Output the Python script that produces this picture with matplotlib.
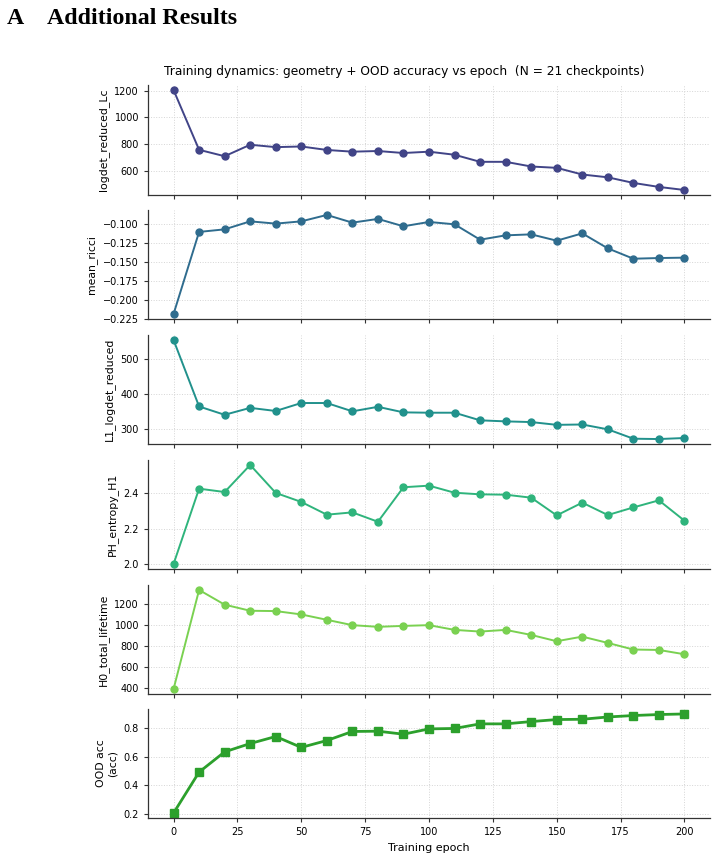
import numpy as np
import matplotlib
matplotlib.use("Agg")
import matplotlib.pyplot as plt
from matplotlib.ticker import MultipleLocator

epochs = list(range(0, 201, 10))

logdet_reduced_Lc = [1205, 757, 709, 795, 777, 782, 756, 743, 748, 733, 743, 720,
                     667, 667, 632, 622, 572, 551, 509, 479, 456]
mean_ricci = [-0.2188, -0.1109, -0.1075, -0.0970, -0.1000, -0.0970, -0.0886, -0.0987,
              -0.0938, -0.1035, -0.0978, -0.1009, -0.1211, -0.1154, -0.1141, -0.1224,
              -0.1128, -0.1325, -0.1461, -0.1452, -0.1447]
L1_logdet_reduced = [556, 364, 340, 360, 351, 374, 374, 350, 363, 347, 346, 346,
                     324, 321, 319, 311, 312, 298, 271, 270, 273]
PH_entropy_H1 = [2.000, 2.426, 2.407, 2.560, 2.402, 2.351, 2.279, 2.292, 2.239, 2.434,
                 2.443, 2.403, 2.394, 2.392, 2.375, 2.275, 2.347, 2.277, 2.320, 2.360, 2.245]
H0_total_lifetime = [394, 1337, 1197, 1139, 1136, 1104, 1053, 1002, 986, 995, 1002,
                     957, 941, 957, 909, 849, 893, 833, 770, 766, 725]
ood_acc = [0.207, 0.492, 0.633, 0.691, 0.740, 0.664, 0.712, 0.775, 0.777, 0.756, 0.793,
           0.796, 0.828, 0.828, 0.844, 0.858, 0.860, 0.876, 0.886, 0.893, 0.897]

geo_series = [logdet_reduced_Lc, mean_ricci, L1_logdet_reduced, PH_entropy_H1, H0_total_lifetime]
geo_labels = ["logdet_reduced_Lc", "mean_ricci", "L1_logdet_reduced", "PH_entropy_H1", "H0_total_lifetime"]
y_steps = [200, 0.025, 100, 0.2, 200, 0.2]
title = "Training dynamics: geometry + OOD accuracy vs epoch  (N = 21 checkpoints)"

W, H = 718, 856
fig = plt.figure(figsize=(W / 100, H / 100), dpi=100)

panels_px = [(85, 195), (210, 319), (335, 444), (460, 569), (585, 694), (709, 818)]
left_px, right_px = 148, 710

colors = plt.cm.viridis(np.linspace(0.2, 0.8, 5))

axes = []
for i, (t, b) in enumerate(panels_px):
    ax = fig.add_axes([left_px / W, 1 - b / H, (right_px - left_px) / W, (b - t) / H],
                      sharex=axes[0] if axes else None)
    axes.append(ax)

for i in range(5):
    ax = axes[i]
    ax.plot(epochs, geo_series[i], marker="o", ms=5, lw=1.4, color=colors[i])
    ax.set_ylabel(geo_labels[i], fontsize=7.8)

ax = axes[5]
ax.plot(epochs, ood_acc, marker="s", ms=5.5, lw=2, color="#2ca02c")
ax.set_ylabel("OOD acc\n(acc)", fontsize=7.8)
ax.set_xlabel("Training epoch", fontsize=8)
ax.set_xticks([0, 25, 50, 75, 100, 125, 150, 175, 200])

for i, ax in enumerate(axes):
    ax.yaxis.set_major_locator(MultipleLocator(y_steps[i]))
    ax.spines["top"].set_visible(False)
    ax.spines["right"].set_visible(False)
    for s in ["left", "bottom"]:
        ax.spines[s].set_color("#333333")
        ax.spines[s].set_linewidth(0.9)
    ax.grid(True, linestyle=":", color="#d5d5d5", linewidth=0.7)
    ax.set_axisbelow(True)
    ax.tick_params(labelsize=7, length=3, color="#333333")
    if i < 5:
        ax.tick_params(labelbottom=False)

fig.text(404 / W, 1 - 71 / H, title, ha="center", va="center", fontsize=8.8)

fig.text(7 / W, 1 - 24 / H, "A", fontsize=17.2, fontweight="bold",
         family="Liberation Serif", va="baseline", ha="left")
fig.text(47 / W, 1 - 24 / H, "Additional Results", fontsize=17.2, fontweight="bold",
         family="Liberation Serif", va="baseline", ha="left")

fig.savefig("out.png", dpi=100)
